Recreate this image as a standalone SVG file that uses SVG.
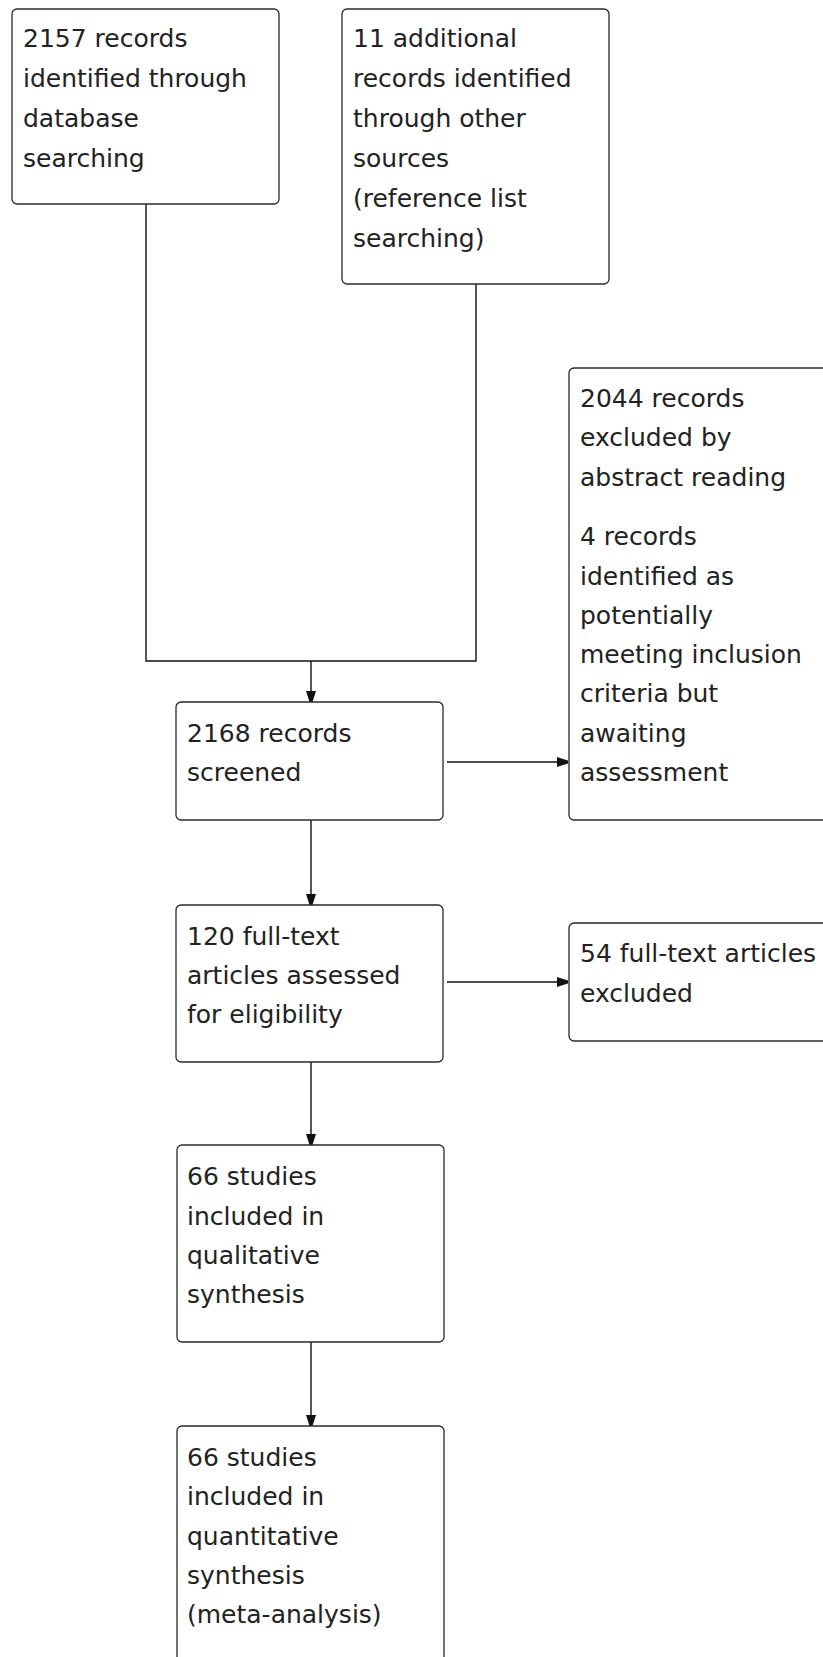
<svg xmlns="http://www.w3.org/2000/svg" width="823" height="1657" viewBox="0 0 823 1657">
<style>
  .box { fill: #ffffff; stroke: #2a2a2a; stroke-width: 1.3; }
  .txt { font-family: "DejaVu Sans", "Verdana", sans-serif; font-size: 25px; fill: #222222; }
  .conn { fill: none; stroke: #111111; stroke-width: 1.4; }
</style>
<defs>
  <marker id="arr" markerUnits="userSpaceOnUse" markerWidth="12" markerHeight="12" refX="11" refY="5" orient="auto">
    <path d="M0,0 L3,1 L11,3.5 L11,6.5 L3,9 L0,10 Z" fill="#111111"/>
  </marker>
</defs>
<rect width="823" height="1657" fill="#ffffff"/>

<g id="connectors">
  <path class="conn" d="M146,204 L146,661 L476,661 L476,284"/>
  <path class="conn" d="M311,661 L311,702" marker-end="url(#arr)"/>
  <path class="conn" d="M447,762 L568,762" marker-end="url(#arr)"/>
  <path class="conn" d="M311,820 L311,905" marker-end="url(#arr)"/>
  <path class="conn" d="M447,982 L568,982" marker-end="url(#arr)"/>
  <path class="conn" d="M311,1062 L311,1145" marker-end="url(#arr)"/>
  <path class="conn" d="M311,1342 L311,1426" marker-end="url(#arr)"/>
</g>

<g id="node-database">
  <rect class="box" x="12" y="9" width="267" height="195" rx="5"/>
  <text class="txt" x="23" y="47">2157 records</text>
  <text class="txt" x="23" y="87">identified through</text>
  <text class="txt" x="23" y="127">database</text>
  <text class="txt" x="23" y="167">searching</text>
</g>

<g id="node-other">
  <rect class="box" x="342" y="9" width="267" height="275" rx="5"/>
  <text class="txt" x="353" y="47">11 additional</text>
  <text class="txt" x="353" y="87">records identified</text>
  <text class="txt" x="353" y="127">through other</text>
  <text class="txt" x="353" y="167">sources</text>
  <text class="txt" x="353" y="207">(reference list</text>
  <text class="txt" x="353" y="247">searching)</text>
</g>

<g id="node-excluded-abstract">
  <rect class="box" x="569" y="368" width="270" height="452" rx="5"/>
  <text class="txt" x="580" y="407">2044 records</text>
  <text class="txt" x="580" y="446">excluded by</text>
  <text class="txt" x="580" y="486">abstract reading</text>
  <text class="txt" x="580" y="545">4 records</text>
  <text class="txt" x="580" y="585">identified as</text>
  <text class="txt" x="580" y="624">potentially</text>
  <text class="txt" x="580" y="663">meeting inclusion</text>
  <text class="txt" x="580" y="702">criteria but</text>
  <text class="txt" x="580" y="742">awaiting</text>
  <text class="txt" x="580" y="781">assessment</text>
</g>

<g id="node-screened">
  <rect class="box" x="176" y="702" width="267" height="118" rx="5"/>
  <text class="txt" x="187" y="742">2168 records</text>
  <text class="txt" x="187" y="781">screened</text>
</g>

<g id="node-fulltext">
  <rect class="box" x="176" y="905" width="267" height="157" rx="5"/>
  <text class="txt" x="187" y="945">120 full-text</text>
  <text class="txt" x="187" y="984">articles assessed</text>
  <text class="txt" x="187" y="1023">for eligibility</text>
</g>

<g id="node-fulltext-excluded">
  <rect class="box" x="569" y="923" width="270" height="118" rx="5"/>
  <text class="txt" x="580" y="962">54 full-text articles</text>
  <text class="txt" x="580" y="1002">excluded</text>
</g>

<g id="node-qualitative">
  <rect class="box" x="177" y="1145" width="267" height="197" rx="5"/>
  <text class="txt" x="187" y="1185">66 studies</text>
  <text class="txt" x="187" y="1225">included in</text>
  <text class="txt" x="187" y="1264">qualitative</text>
  <text class="txt" x="187" y="1303">synthesis</text>
</g>

<g id="node-quantitative">
  <rect class="box" x="177" y="1426" width="267" height="250" rx="5"/>
  <text class="txt" x="187" y="1466">66 studies</text>
  <text class="txt" x="187" y="1505">included in</text>
  <text class="txt" x="187" y="1545">quantitative</text>
  <text class="txt" x="187" y="1584">synthesis</text>
  <text class="txt" x="187" y="1623">(meta-analysis)</text>
</g>
</svg>
